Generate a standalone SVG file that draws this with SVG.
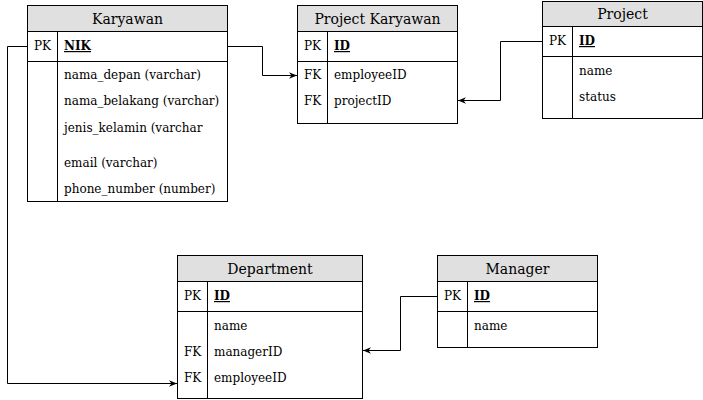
<svg xmlns="http://www.w3.org/2000/svg" width="703" height="400" viewBox="0 0 703 400">
<style>
.box{fill:#fff;stroke:#000;stroke-width:1}
.hdr{fill:#e0e0e0;stroke:#000;stroke-width:1}
.ln{stroke:#000;stroke-width:1;fill:none}
.t{font-family:"DejaVu Serif",serif;font-size:12px;fill:#000}
.title{font-family:"DejaVu Serif",serif;font-size:14px;fill:#000;text-anchor:middle}
.key{font-weight:bold;text-decoration:underline}
.conn{stroke:#000;stroke-width:1;fill:none;marker-end:url(#arr)}
</style>
<defs>
<marker id="arr" viewBox="0 0 10 10" refX="10" refY="5" markerWidth="8" markerHeight="8" markerUnits="userSpaceOnUse" orient="auto">
<path d="M0,1 L10,5 L0,9 L3,5 Z" fill="#000"/>
</marker>
</defs>
<rect width="703" height="400" fill="#fff"/>
<g id="karyawan">
<rect class="box" x="27.5" y="5.5" width="200" height="196"/>
<rect class="hdr" x="27.5" y="5.5" width="200" height="26"/>
<text class="title" x="127.5" y="24">Karyawan</text>
<line class="ln" x1="27.5" y1="61.5" x2="227.5" y2="61.5"/>
<line class="ln" x1="57.5" y1="31.5" x2="57.5" y2="201.5"/>
<text class="t" x="34" y="50">PK</text>
<text class="t key" x="64" y="50">NIK</text>
<text class="t" x="64" y="79">nama_depan (varchar)</text>
<text class="t" x="64" y="105">nama_belakang (varchar)</text>
<text class="t" x="64" y="132">jenis_kelamin (varchar</text>
<text class="t" x="64" y="167">email (varchar)</text>
<text class="t" x="64" y="193">phone_number (number)</text>
</g>
<g id="project-karyawan">
<rect class="box" x="297.5" y="5.5" width="160" height="118"/>
<rect class="hdr" x="297.5" y="5.5" width="160" height="26"/>
<text class="title" x="377.5" y="24">Project Karyawan</text>
<line class="ln" x1="297.5" y1="61.5" x2="457.5" y2="61.5"/>
<line class="ln" x1="327.5" y1="31.5" x2="327.5" y2="123.5"/>
<text class="t" x="304" y="50">PK</text>
<text class="t key" x="334" y="50">ID</text>
<text class="t" x="304" y="79">FK</text>
<text class="t" x="334" y="79">employeeID</text>
<text class="t" x="304" y="105">FK</text>
<text class="t" x="334" y="105">projectID</text>
</g>
<g id="project">
<rect class="box" x="542.5" y="1.5" width="160" height="117"/>
<rect class="hdr" x="542.5" y="1.5" width="160" height="25"/>
<text class="title" x="622.5" y="19">Project</text>
<line class="ln" x1="542.5" y1="56.5" x2="702.5" y2="56.5"/>
<line class="ln" x1="572.5" y1="26.5" x2="572.5" y2="118.5"/>
<text class="t" x="549" y="45">PK</text>
<text class="t key" x="579" y="45">ID</text>
<text class="t" x="579" y="75">name</text>
<text class="t" x="579" y="101">status</text>
</g>
<g id="department">
<rect class="box" x="177.5" y="255.5" width="185" height="143"/>
<rect class="hdr" x="177.5" y="255.5" width="185" height="26"/>
<text class="title" x="270" y="274">Department</text>
<line class="ln" x1="177.5" y1="311.5" x2="362.5" y2="311.5"/>
<line class="ln" x1="207.5" y1="281.5" x2="207.5" y2="398.5"/>
<text class="t" x="184" y="300">PK</text>
<text class="t key" x="214" y="300">ID</text>
<text class="t" x="214" y="330">name</text>
<text class="t" x="184" y="356">FK</text>
<text class="t" x="214" y="356">managerID</text>
<text class="t" x="184" y="382">FK</text>
<text class="t" x="214" y="382">employeeID</text>
</g>
<g id="manager">
<rect class="box" x="437.5" y="255.5" width="160" height="92"/>
<rect class="hdr" x="437.5" y="255.5" width="160" height="26"/>
<text class="title" x="517.5" y="274">Manager</text>
<line class="ln" x1="437.5" y1="311.5" x2="597.5" y2="311.5"/>
<line class="ln" x1="467.5" y1="281.5" x2="467.5" y2="347.5"/>
<text class="t" x="444" y="300">PK</text>
<text class="t key" x="474" y="300">ID</text>
<text class="t" x="474" y="330">name</text>
</g>
<g id="connectors">
<path class="conn" d="M227.5,46.5 H262.5 V75.5 H297"/>
<path class="conn" d="M542.5,41.5 H500.5 V100.5 H458"/>
<path class="conn" d="M27.5,46.5 H7.5 V383.5 H177"/>
<path class="conn" d="M437.5,296.5 H400.5 V350.5 H363"/>
</g>
</svg>
